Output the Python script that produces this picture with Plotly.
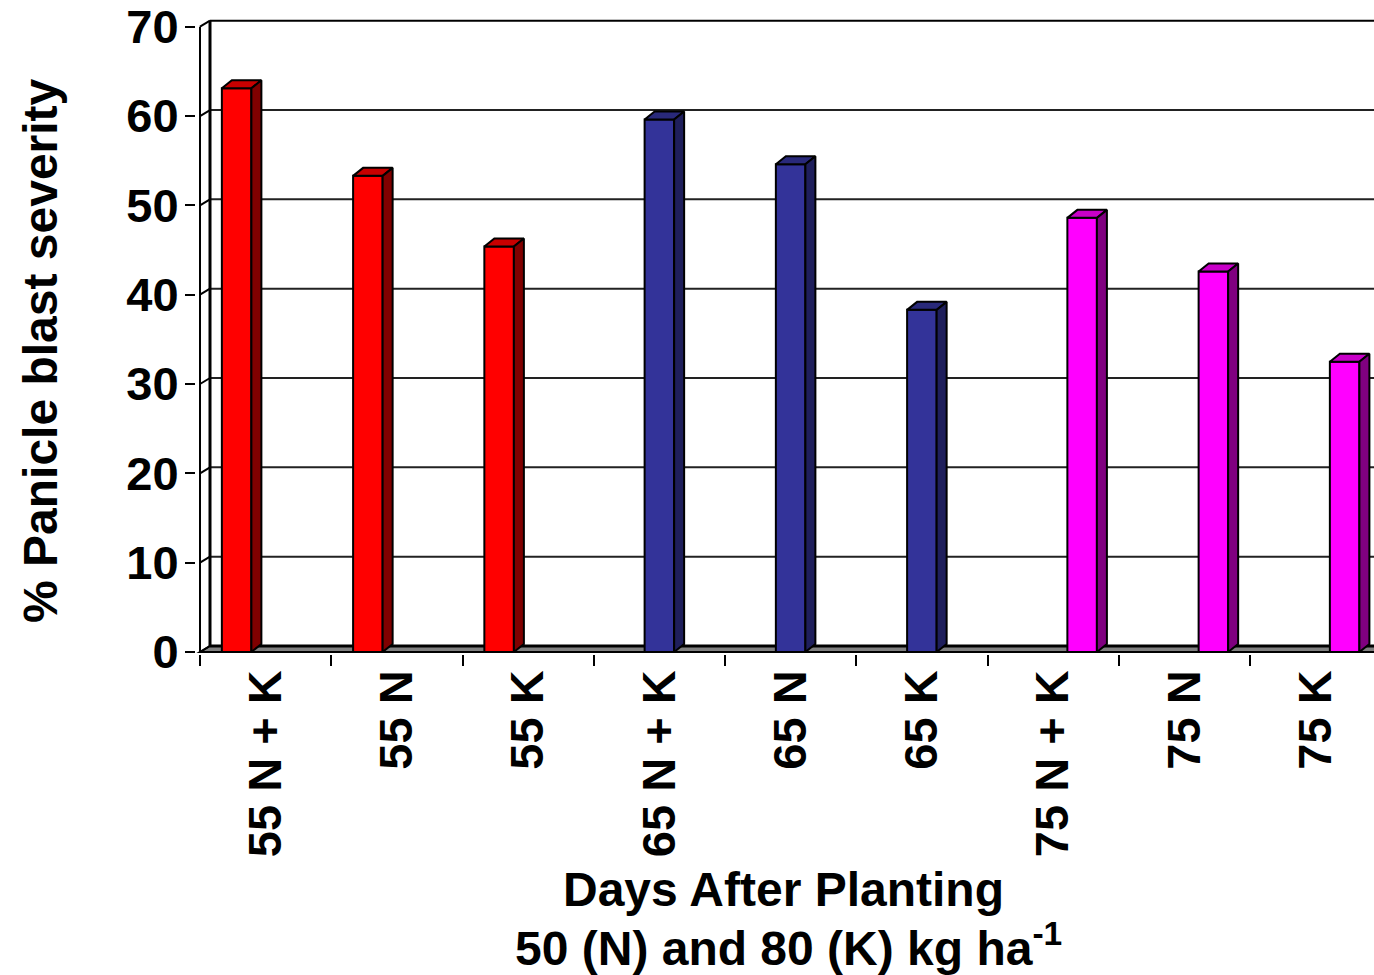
import plotly.graph_objects as go

# Treatment labels along the x axis (three planting dates x three fertiliser regimes)
labels = ["55 N + K", "55 N", "55 K",
          "65 N + K", "65 N", "65 K",
          "75 N + K", "75 N", "75 K"]

# % panicle blast severity, one series per planting date
sev_55 = [63.1, 53.3, 45.4]
sev_65 = [59.6, 54.6, 38.3]
sev_75 = [48.6, 42.6, 32.5]

y_ticks = [0, 10, 20, 30, 40, 50, 60, 70]

# --- geometry of the pseudo-3D frame ------------------------------------
FONT = "Liberation Sans, Arial, sans-serif"
W, H = 1374, 975
PX_X = 131.25          # pixels per category
PX_Y = 8.933           # pixels per unit of severity
L_PX, R_PX, T_PX, B_PX = 196, 1374, 14, 654
X0 = -0.5 - (200 - L_PX) / PX_X
X1 = -0.5 + (R_PX - 200) / PX_X
Y0 = -(B_PX - 652) / PX_Y
Y1 = (652 - T_PX) / PX_Y

DX = 10 / PX_X         # horizontal depth offset
DYW = 6 / PX_Y         # vertical depth offset of walls / floor
DYB = 8 / PX_Y         # vertical depth offset of bar tops
BW = 0.225             # bar front width
OFFS = [-0.221, 0.0, 0.221]

series = [
    (sev_55, [0, 1, 2], OFFS[0], "#FF0000", "#C80000", "#800000"),
    (sev_65, [3, 4, 5], OFFS[1], "#333399", "#29297A", "#1F1F5C"),
    (sev_75, [6, 7, 8], OFFS[2], "#FF00FF", "#C800C8", "#800080"),
]

fig = go.Figure()

for vals, cats, off, front, top, side in series:
    xs = [c + off for c in cats]
    fig.add_trace(go.Bar(
        x=xs, y=vals, width=BW,
        marker=dict(color=front, line=dict(color="black", width=2)),
        showlegend=False, hoverinfo="skip"))
    tx, ty, sx, sy = [], [], [], []
    for xc, v in zip(xs, vals):
        l, r = xc - BW / 2, xc + BW / 2
        tx += [l, r, r + DX, l + DX, l, None]
        ty += [v, v, v + DYB, v + DYB, v, None]
        sx += [r, r, r + DX, r + DX, r, None]
        sy += [0, v, v + DYB, DYB, 0, None]
    fig.add_trace(go.Scatter(x=tx, y=ty, mode="lines", fill="toself",
                             fillcolor=top, line=dict(color="black", width=2),
                             showlegend=False, hoverinfo="skip"))
    fig.add_trace(go.Scatter(x=sx, y=sy, mode="lines", fill="toself",
                             fillcolor=side, line=dict(color="black", width=2),
                             showlegend=False, hoverinfo="skip"))

shapes = []
# floor
shapes.append(dict(type="path", xref="x", yref="y", layer="below",
                   path=f"M {-0.5},0 L {X1 + 1},0 L {X1 + 1},{DYW} L {-0.5 + DX},{DYW} Z",
                   fillcolor="#808080", line=dict(color="black", width=2)))
shapes.append(dict(type="line", xref="x", yref="y", layer="below",
                   x0=-0.5 + DX, x1=X1 + 1, y0=DYW, y1=DYW,
                   line=dict(color="black", width=3)))
# back-wall gridlines
for v in y_ticks[1:]:
    shapes.append(dict(type="line", xref="x", yref="y", layer="below",
                       x0=-0.5 + DX, x1=X1 + 1, y0=v + DYW, y1=v + DYW,
                       line=dict(color="#222222" if v < 70 else "black", width=2)))
# side-wall gridlines
for v in y_ticks:
    shapes.append(dict(type="line", xref="x", yref="y", layer="below",
                       x0=-0.5, x1=-0.5 + DX, y0=v, y1=v + DYW,
                       line=dict(color="black", width=2)))
# wall edges
shapes.append(dict(type="line", xref="x", yref="y", layer="below",
                   x0=-0.5 + DX, x1=-0.5 + DX, y0=DYW, y1=70 + DYW,
                   line=dict(color="black", width=3)))
shapes.append(dict(type="line", xref="x", yref="y", layer="below",
                   x0=-0.5, x1=-0.5, y0=0, y1=70,
                   line=dict(color="black", width=2)))

fig.update_layout(
    width=W, height=H,
    margin=dict(l=L_PX, r=W - R_PX, t=T_PX, b=H - B_PX),
    plot_bgcolor="white", paper_bgcolor="white",
    barmode="overlay",
    shapes=shapes,
    font=dict(family=FONT, color="black"),
)

fig.update_xaxes(
    range=[X0, X1], showgrid=False, zeroline=False, showline=False,
    tickmode="array", tickvals=list(range(len(labels))), ticktext=labels,
    ticks="", tickangle=-90, ticklabelstandoff=6,
    tickfont=dict(family=FONT, size=47, weight="bold", color="black"),
    minor=dict(tickmode="array", tickvals=[i - 0.5 for i in range(len(labels))],
               ticks="outside", ticklen=11, tickwidth=2, tickcolor="black",
               showgrid=False),
)
fig.update_yaxes(
    range=[Y0, Y1], showgrid=False, zeroline=False, showline=False,
    tickmode="array", tickvals=y_ticks,
    ticks="outside", ticklen=10, tickwidth=2, tickcolor="black",
    ticklabelstandoff=-3,
    tickfont=dict(family=FONT, size=47, weight="bold", color="black"),
)

PW, PH = R_PX - L_PX, B_PX - T_PX


def px(x):
    return (x - L_PX) / PW


def py(y):
    return (B_PX - y) / PH


title_font = dict(family=FONT, size=48, weight="bold", color="black")
fig.add_annotation(text="% Panicle blast severity", xref="paper", yref="paper",
                   x=px(40), y=py(351), textangle=-90, showarrow=False,
                   xanchor="center", yanchor="middle", font=title_font)
fig.add_annotation(text="Days After Planting", xref="paper", yref="paper",
                   x=px(783), y=py(889), showarrow=False,
                   xanchor="center", yanchor="middle", font=title_font)
fig.add_annotation(text="50 (N) and 80 (K) kg ha<sup>-1</sup>", xref="paper", yref="paper",
                   x=px(788), y=py(945), showarrow=False,
                   xanchor="center", yanchor="middle", font=title_font)

fig.write_html("out.html")
